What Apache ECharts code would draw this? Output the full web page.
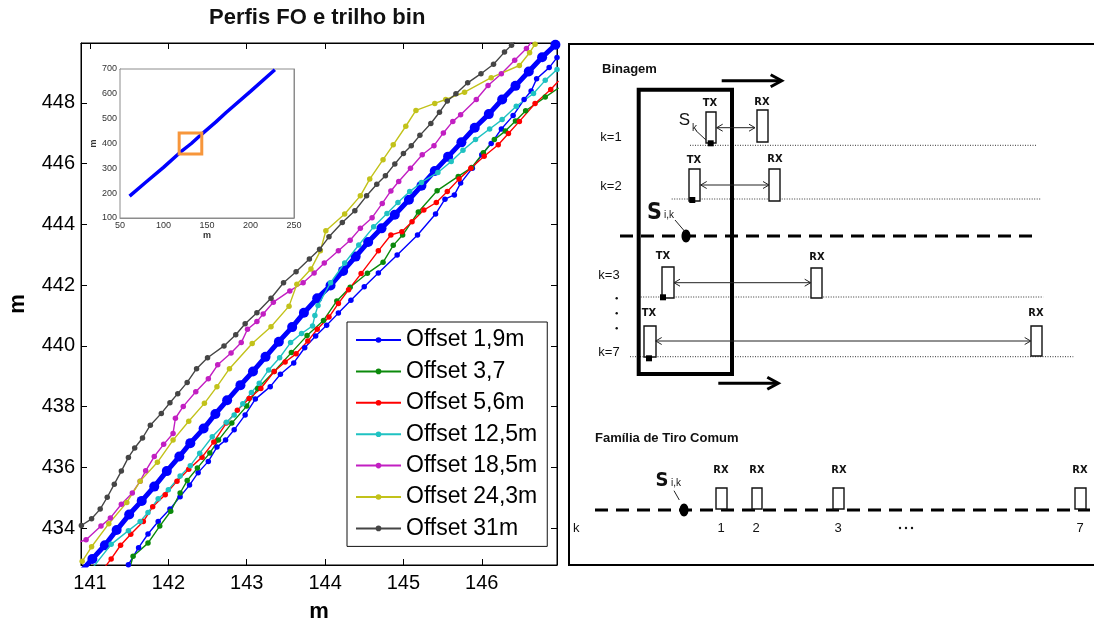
<!DOCTYPE html>
<html>
<head>
<meta charset="utf-8">
<script src="https://cdn.jsdelivr.net/npm/echarts@6/dist/echarts.min.js"></script>
<style>
  html, body { margin: 0; padding: 0; background: #fff; }
  #chart { width: 1094px; height: 623px; }
</style>
</head>
<body>
<div id="chart"></div>
<script>
// left panel: offset profiles around the bin track, values in metres
var FONT = "'Liberation Sans', Arial, sans-serif";
var NARROW = "'Liberation Sans Narrow', 'DejaVu Sans Condensed', 'Liberation Sans', sans-serif";

var offsetNames = ['Offset 1,9m', 'Offset 3,7', 'Offset 5,6m', 'Offset 12,5m', 'Offset 18,5m', 'Offset 24,3m', 'Offset 31m'];
var offsetColors = ['#0000ff', '#0b8a0b', '#ff0000', '#1fc2c2', '#c21fc2', '#c2c21a', '#454545'];
var xTicks = [141, 142, 143, 144, 145, 146];
var yTicks = [434, 436, 438, 440, 442, 444, 446, 448];

var binTrack = [
  [140.87, 432.54], [141.03, 432.99], [141.19, 433.44], [141.34, 433.94], [141.50, 434.45], [141.66, 434.90],
  [141.82, 435.37], [141.98, 435.88], [142.14, 436.36], [142.28, 436.80], [142.45, 437.28], [142.60, 437.76],
  [142.75, 438.21], [142.92, 438.71], [143.08, 439.16], [143.24, 439.64], [143.41, 440.14], [143.58, 440.62],
  [143.73, 441.09], [143.90, 441.57], [144.07, 441.99], [144.23, 442.47], [144.39, 442.94], [144.55, 443.42],
  [144.72, 443.87], [144.89, 444.32], [145.07, 444.81], [145.23, 445.27], [145.40, 445.76], [145.57, 446.23],
  [145.74, 446.70], [145.91, 447.18], [146.09, 447.63], [146.26, 448.11], [146.43, 448.56], [146.60, 449.03],
  [146.77, 449.50], [146.94, 449.91]
];
var offset19 = [
  [141.43, 432.62], [141.49, 432.80], [141.62, 433.36], [141.74, 433.81], [141.87, 434.22], [142.02, 434.63],
  [142.15, 435.04], [142.27, 435.42], [142.38, 435.83], [142.51, 436.20], [142.62, 436.67], [142.73, 436.90],
  [142.84, 437.24], [142.98, 437.73], [143.11, 438.25], [143.30, 438.66], [143.43, 439.07], [143.60, 439.44],
  [143.74, 439.94], [143.88, 440.33], [144.02, 440.68], [144.17, 441.08], [144.33, 441.50], [144.50, 441.95],
  [144.68, 442.40], [144.92, 442.99], [145.18, 443.65], [145.41, 444.34], [145.53, 444.83], [145.65, 444.97],
  [145.73, 445.36], [145.88, 445.85], [146.00, 446.29], [146.12, 446.66], [146.25, 447.14], [146.40, 447.58],
  [146.54, 448.11], [146.63, 448.39], [146.70, 448.79], [146.86, 449.16], [146.96, 449.49]
];
var offset37 = [
  [141.50, 432.62], [141.55, 433.08], [141.74, 433.51], [141.89, 434.07], [142.03, 434.56], [142.15, 435.16],
  [142.24, 435.57], [142.37, 435.98], [142.53, 436.48], [142.64, 436.90], [142.81, 437.46], [143.00, 438.02],
  [143.14, 438.60], [143.35, 439.16], [143.57, 439.78], [143.77, 440.34], [143.98, 440.84], [144.15, 441.48],
  [144.32, 441.93], [144.54, 442.39], [144.74, 442.75], [144.87, 443.31], [144.99, 443.65], [145.19, 444.41],
  [145.43, 445.11], [145.70, 445.58], [145.87, 445.87], [146.02, 446.36], [146.16, 446.79], [146.30, 447.07],
  [146.43, 447.40], [146.56, 447.74], [146.81, 448.19], [146.98, 448.49]
];
var offset56 = [
  [141.19, 432.72], [141.27, 432.99], [141.39, 433.44], [141.52, 433.80], [141.68, 434.22], [141.80, 434.71],
  [141.96, 435.10], [142.11, 435.55], [142.26, 435.94], [142.43, 436.34], [142.58, 436.84], [142.74, 437.46],
  [142.88, 437.88], [143.03, 438.27], [143.18, 438.60], [143.35, 439.16], [143.49, 439.47], [143.63, 439.74],
  [143.78, 440.16], [143.90, 440.55], [144.05, 440.95], [144.17, 441.40], [144.30, 441.85], [144.46, 442.38],
  [144.68, 443.13], [144.84, 443.65], [144.98, 443.76], [145.11, 444.09], [145.26, 444.47], [145.42, 444.72],
  [145.56, 445.08], [145.71, 445.49], [145.86, 445.85], [146.03, 446.24], [146.21, 446.62], [146.34, 446.99],
  [146.48, 447.39], [146.68, 447.98], [146.88, 448.44], [146.98, 448.72]
];
var offset125 = [
  [141.05, 432.75], [141.27, 433.47], [141.49, 433.92], [141.64, 434.22], [141.74, 434.52], [141.87, 434.97],
  [142.00, 435.27], [142.15, 435.72], [142.28, 436.06], [142.40, 436.47], [142.56, 437.01], [142.74, 437.49],
  [142.84, 437.73], [142.95, 438.10], [143.06, 438.47], [143.16, 438.77], [143.28, 439.21], [143.42, 439.61],
  [143.56, 440.11], [143.70, 440.41], [143.84, 440.66], [143.87, 441.00], [143.91, 441.33], [144.07, 442.08],
  [144.25, 442.73], [144.43, 443.32], [144.62, 443.92], [144.79, 444.36], [144.93, 444.72], [145.08, 445.08],
  [145.23, 445.38], [145.44, 445.71], [145.61, 446.07], [145.76, 446.44], [145.92, 446.79], [146.10, 447.14],
  [146.26, 447.45], [146.44, 447.89], [146.66, 448.31], [146.81, 448.74], [146.96, 449.10]
];
var offset185 = [
  [140.87, 433.55], [140.95, 433.62], [141.14, 434.07], [141.26, 434.34], [141.40, 434.79], [141.54, 435.16],
  [141.64, 435.55], [141.71, 435.89], [141.82, 436.36], [141.94, 436.76], [142.06, 437.12], [142.09, 437.62],
  [142.19, 438.01], [142.35, 438.49], [142.51, 438.92], [142.63, 439.38], [142.80, 439.77], [142.93, 440.11],
  [143.01, 440.55], [143.13, 440.80], [143.21, 441.05], [143.34, 441.44], [143.55, 441.81], [143.72, 442.08],
  [143.86, 442.40], [143.99, 442.73], [144.17, 443.13], [144.32, 443.48], [144.45, 443.87], [144.60, 444.22],
  [144.73, 444.69], [144.84, 445.10], [144.94, 445.41], [145.09, 445.85], [145.24, 446.29], [145.39, 446.59],
  [145.51, 447.01], [145.63, 447.39], [145.73, 447.61], [145.93, 448.11], [146.08, 448.57], [146.25, 448.96],
  [146.42, 449.40], [146.57, 449.79], [146.65, 450.05]
];
var offset243 = [
  [140.90, 432.91], [141.02, 433.39], [141.24, 434.15], [141.47, 434.85], [141.64, 435.55], [141.86, 436.17],
  [142.06, 436.90], [142.26, 437.52], [142.46, 438.11], [142.62, 438.66], [142.78, 439.25], [143.07, 440.08],
  [143.31, 440.63], [143.54, 441.31], [143.64, 442.03], [143.82, 442.53], [143.94, 443.13], [144.01, 443.79],
  [144.25, 444.34], [144.45, 444.94], [144.57, 445.49], [144.74, 446.13], [144.87, 446.62], [145.03, 447.23],
  [145.16, 447.75], [145.40, 447.98], [145.54, 448.11], [145.78, 448.35], [146.12, 448.83], [146.48, 449.23],
  [146.61, 449.65], [146.68, 449.93]
];
var offset31 = [
  [140.89, 434.09], [141.02, 434.31], [141.13, 434.63], [141.22, 435.02], [141.31, 435.45], [141.40, 435.88],
  [141.49, 436.33], [141.57, 436.64], [141.67, 436.97], [141.77, 437.39], [141.91, 437.78], [142.02, 438.13],
  [142.12, 438.43], [142.24, 438.80], [142.36, 439.25], [142.50, 439.61], [142.71, 440.00], [142.86, 440.37],
  [142.98, 440.73], [143.13, 441.09], [143.31, 441.57], [143.47, 442.08], [143.63, 442.44], [143.80, 442.86],
  [143.93, 443.18], [144.05, 443.59], [144.22, 444.06], [144.38, 444.45], [144.53, 444.94], [144.66, 445.32],
  [144.77, 445.60], [144.89, 445.99], [145.00, 446.33], [145.10, 446.59], [145.21, 446.93], [145.35, 447.32],
  [145.46, 447.69], [145.56, 448.06], [145.67, 448.30], [145.82, 448.66], [145.99, 448.96], [146.15, 449.27],
  [146.29, 449.67], [146.38, 449.90], [146.45, 450.10]
];

// inset: whole track, and the zoomed window
var insetTrack = [[61, 188], [80, 245], [100, 304], [119, 364], [132, 400], [144, 438], [160, 486], [172, 525], [200, 610], [228, 697]];
var insetWindow = [[118, 358, 144, 442]];

// right panel: schematic, in panel units (x right, y down)
var binFrame = [[69.7, 45.7, 163, 330]];
var antennaBoxes = [
  [137, 68, 147, 99], [188, 66, 199, 98],
  [120, 125, 131, 157], [200, 125, 211, 157],
  [93, 223, 105, 254], [242, 224, 253, 254],
  [75, 282, 87, 313], [462, 282, 473, 312],
  [147, 444, 158, 465], [183, 444, 193, 465], [264, 444, 275, 465], [506, 444, 517, 465]
];
var sourceMarks = [[141.7, 99.3], [123.3, 156], [94, 253.3], [80, 314.3]];
var offsetArrows = [[147.7, 83.7, 186], [131.7, 141, 200], [105, 238.7, 241.7], [86.7, 297, 461.7]];
var moveArrows = [[152.7, 36.7, 212.7], [149.3, 339.3, 209.3]];
var traceLines = [[121, 101.3, 467.7], [102.7, 155, 472.7], [71.7, 253, 474.3], [61, 312.7, 504.3]];
var binLines = [[51, 192, 467.7], [26, 466, 521]];
var binPoints = [[117, 192], [115, 466]];
var pointers = [[127, 86.7, 137, 96], [106, 176, 116, 187.7], [105, 446.7, 110.3, 456]];
var ellipsisDots = [[47.7, 254.3], [47.7, 269.3], [47.7, 284.3], [331, 484], [337, 484], [343, 484]];
var diagramTexts = [
  [33, 25, 'Binagem', 'head'],
  [42, 93, 'k=1', 'lab'], [42, 142, 'k=2', 'lab'], [40, 231, 'k=3', 'lab'], [40, 308, 'k=7', 'lab'],
  [141, 59, 'TX', 'trx'], [193, 58, 'RX', 'trx'], [125, 116, 'TX', 'trx'], [206, 115, 'RX', 'trx'],
  [94, 212, 'TX', 'trx'], [248, 213, 'RX', 'trx'], [80, 269, 'TX', 'trx'], [467, 269, 'RX', 'trx'],
  [115.5, 76.5, 'S', 's'], [125.5, 84.5, 'k', 'sub'],
  [85.5, 169.5, 'S', 'sb'], [100, 171, 'i,k', 'sub'],
  [26, 394, 'Família de Tiro Comum', 'head'],
  [93, 436.5, 'S', 'sb2'], [107, 439, 'i,k', 'sub'],
  [152, 426, 'RX', 'trx'], [188, 426, 'RX', 'trx'], [270, 426, 'RX', 'trx'], [511, 426, 'RX', 'trx'],
  [152, 484, '1', 'num'], [187, 484, '2', 'num'], [269, 484, '3', 'num'], [511, 484, '7', 'num'],
  [4, 484, 'k', 'numL']
];

var textLook = {
  head: { fontSize: 13, fontWeight: 'bold', align: 'left', fontFamily: FONT },
  lab: { fontSize: 13, fontWeight: 'normal', align: 'center', fontFamily: FONT },
  trx: { fontSize: 11, fontWeight: 'bold', align: 'center', fontFamily: NARROW },
  s: { fontSize: 17, fontWeight: 'normal', align: 'center', fontFamily: FONT },
  sb: { fontSize: 23, fontWeight: 'bold', align: 'center', fontFamily: NARROW },
  sb2: { fontSize: 20, fontWeight: 'bold', align: 'center', fontFamily: NARROW },
  sub: { fontSize: 10, fontWeight: 'normal', align: 'center', fontFamily: FONT },
  num: { fontSize: 13, fontWeight: 'normal', align: 'center', fontFamily: FONT },
  numL: { fontSize: 13, fontWeight: 'normal', align: 'left', fontFamily: FONT }
};

var chart = echarts.init(document.getElementById('chart'));

function headPoints(tip, dir, len, half) {
  return [[tip[0] - dir * len, tip[1] - half], tip, [tip[0] - dir * len, tip[1] + half]];
}

// custom series drawn through a given pair of axes
function drawn(items, xi, draw) {
  return {
    type: 'custom',
    xAxisIndex: xi,
    yAxisIndex: xi,
    silent: true,
    z: 6,
    data: items.map(function (d) { return [d[0], d[1]]; }),
    renderItem: function (params, api) {
      return draw(items[params.dataIndex], function (x, y) { return api.coord([x, y]); });
    }
  };
}
function diagram(items, draw) { return drawn(items, 4, draw); }

var series = [];

series.push({
  type: 'line',
  name: 'trilho bin',
  xAxisIndex: 0,
  yAxisIndex: 0,
  data: binTrack,
  symbol: 'circle',
  symbolSize: 10,
  lineStyle: { color: '#0000ff', width: 5 },
  itemStyle: { color: '#0000ff' },
  z: 2
});

[offset19, offset37, offset56, offset125, offset185, offset243, offset31].forEach(function (d, i) {
  series.push({
    type: 'line',
    name: offsetNames[i],
    xAxisIndex: 0,
    yAxisIndex: 0,
    data: d,
    symbol: 'circle',
    symbolSize: 5.5,
    lineStyle: { color: offsetColors[i], width: 1.4 },
    itemStyle: { color: offsetColors[i] },
    z: 3
  });
});

series.push({
  type: 'line',
  name: 'inset',
  xAxisIndex: 2,
  yAxisIndex: 2,
  data: insetTrack,
  showSymbol: false,
  lineStyle: { color: '#0000ff', width: 3.5 },
  z: 5
});

series.push(drawn(insetWindow, 2, function (d, c) {
  var a = c(d[0], d[3]), b = c(d[2], d[1]);
  return { type: 'rect', shape: { x: a[0], y: a[1], width: b[0] - a[0], height: b[1] - a[1] }, style: { fill: 'none', stroke: '#f7963b', lineWidth: 3 } };
}));

// schematic pieces
series.push(diagram(traceLines, function (d, c) {
  var a = c(d[0], d[1]), b = c(d[2], d[1]);
  return { type: 'line', shape: { x1: a[0], y1: a[1], x2: b[0], y2: b[1] }, style: { stroke: '#333', lineWidth: 1, lineDash: [1, 1.5] } };
}));
series.push(diagram(binLines, function (d, c) {
  var a = c(d[0], d[1]), b = c(d[2], d[1]);
  return { type: 'line', shape: { x1: a[0], y1: a[1], x2: b[0], y2: b[1] }, style: { stroke: '#000', lineWidth: 3, lineDash: [13, 8] } };
}));
series.push(diagram(binFrame, function (d, c) {
  var a = c(d[0], d[1]), b = c(d[2], d[3]);
  return { type: 'rect', shape: { x: a[0], y: a[1], width: b[0] - a[0], height: b[1] - a[1] }, style: { fill: 'none', stroke: '#000', lineWidth: 4 } };
}));
series.push(diagram(antennaBoxes, function (d, c) {
  var a = c(d[0], d[1]), b = c(d[2], d[3]);
  return { type: 'rect', shape: { x: a[0], y: a[1], width: b[0] - a[0], height: b[1] - a[1] }, style: { fill: '#fff', stroke: '#111', lineWidth: 1.4 } };
}));
series.push(diagram(offsetArrows, function (d, c) {
  var a = c(d[0], d[1]), b = c(d[2], d[1]);
  var st = { stroke: '#222', lineWidth: 1, fill: 'none' };
  return {
    type: 'group',
    children: [
      { type: 'line', shape: { x1: a[0], y1: a[1], x2: b[0], y2: b[1] }, style: st },
      { type: 'polyline', shape: { points: headPoints(a, -1, 6, 3.5) }, style: st },
      { type: 'polyline', shape: { points: headPoints(b, 1, 6, 3.5) }, style: st }
    ]
  };
}));
series.push(diagram(moveArrows, function (d, c) {
  var a = c(d[0], d[1]), b = c(d[2], d[1]);
  var st = { stroke: '#000', lineWidth: 3, fill: 'none' };
  return {
    type: 'group',
    children: [
      { type: 'line', shape: { x1: a[0], y1: a[1], x2: b[0] - 1, y2: b[1] }, style: st },
      { type: 'polyline', shape: { points: headPoints(b, 1, 11, 6) }, style: st }
    ]
  };
}));
series.push(diagram(sourceMarks, function (d, c) {
  var p = c(d[0], d[1]);
  return { type: 'rect', shape: { x: p[0] - 3, y: p[1] - 3, width: 6, height: 6 }, style: { fill: '#000' } };
}));
series.push(diagram(binPoints, function (d, c) {
  var p = c(d[0], d[1]);
  return { type: 'ellipse', shape: { cx: p[0], cy: p[1], rx: 4.5, ry: 6.5 }, style: { fill: '#000' } };
}));
series.push(diagram(pointers, function (d, c) {
  var a = c(d[0], d[1]), b = c(d[2], d[3]);
  return { type: 'line', shape: { x1: a[0], y1: a[1], x2: b[0], y2: b[1] }, style: { stroke: '#222', lineWidth: 1 } };
}));
series.push(diagram(ellipsisDots, function (d, c) {
  var p = c(d[0], d[1]);
  return { type: 'circle', shape: { cx: p[0], cy: p[1], r: 1.2 }, style: { fill: '#111' } };
}));
series.push(diagram(diagramTexts, function (d, c) {
  var p = c(d[0], d[1]);
  var look = textLook[d[3]];
  return {
    type: 'text',
    x: p[0],
    y: p[1],
    style: {
      text: d[2],
      fontSize: look.fontSize,
      fontWeight: look.fontWeight,
      fontFamily: look.fontFamily,
      align: look.align,
      verticalAlign: 'middle',
      fill: '#111'
    }
  };
}));

var mainAxisLine = { lineStyle: { color: '#000', width: 1 } };

var option = {
  animation: false,
  backgroundColor: '#fff',
  textStyle: { fontFamily: FONT },
  title: {
    text: 'Perfis FO e trilho bin',
    left: 204,
    top: 2,
    textStyle: { fontFamily: FONT, fontSize: 22, fontWeight: 'bold', color: '#111' }
  },
  legend: {
    data: offsetNames,
    orient: 'vertical',
    left: 347,
    top: 322,
    padding: [6, 10, 6, 8],
    itemGap: 7.4,
    itemWidth: 45,
    itemHeight: 7,
    backgroundColor: '#fff',
    borderColor: '#111',
    borderWidth: 1,
    selectedMode: false,
    textStyle: { fontFamily: FONT, fontSize: 23, color: '#000', lineHeight: 24 }
  },
  grid: [
    { left: 81, top: 43, width: 476, height: 522, show: true, borderColor: '#000', borderWidth: 1, backgroundColor: '#fff', outerBoundsMode: 'none' },
    { left: 120, top: 69, width: 174, height: 149, show: true, borderColor: '#8c8c8c', borderWidth: 1, backgroundColor: '#fff', outerBoundsMode: 'none', z: 4 },
    { left: 569, top: 44, width: 530, height: 521, show: true, borderColor: '#000', borderWidth: 2, backgroundColor: 'rgba(0,0,0,0)', outerBoundsMode: 'none' }
  ],
  xAxis: [
    {
      type: 'value', gridIndex: 0, position: 'bottom', min: 140.885, max: 146.96,
      axisLine: mainAxisLine,
      axisTick: { inside: true, length: 6, customValues: xTicks, lineStyle: { color: '#000' } },
      axisLabel: { customValues: xTicks, fontSize: 20, color: '#000', margin: 8, fontFamily: FONT },
      splitLine: { show: false },
      name: 'm', nameLocation: 'middle', nameGap: 36,
      nameTextStyle: { fontSize: 22, fontWeight: 'bold', color: '#000', fontFamily: FONT }
    },
    {
      type: 'value', gridIndex: 0, position: 'top', min: 140.885, max: 146.96,
      axisLine: mainAxisLine,
      axisTick: { inside: true, length: 6, customValues: xTicks, lineStyle: { color: '#000' } },
      axisLabel: { show: false },
      splitLine: { show: false }
    },
    {
      type: 'value', gridIndex: 1, position: 'bottom', min: 50, max: 250, interval: 50,
      axisLine: { lineStyle: { color: '#8c8c8c' } },
      axisTick: { inside: true, length: 3, lineStyle: { color: '#8c8c8c' } },
      axisLabel: { fontSize: 9, color: '#333', margin: 3, fontFamily: FONT },
      splitLine: { show: false },
      name: 'm', nameLocation: 'middle', nameGap: 13,
      nameTextStyle: { fontSize: 9, fontWeight: 'bold', color: '#333', fontFamily: FONT }
    },
    {
      type: 'value', gridIndex: 1, position: 'top', min: 50, max: 250, interval: 50,
      axisLine: { lineStyle: { color: '#8c8c8c' } },
      axisTick: { inside: true, length: 3, lineStyle: { color: '#8c8c8c' } },
      axisLabel: { show: false },
      splitLine: { show: false }
    },
    { type: 'value', gridIndex: 2, min: 0, max: 530, show: false }
  ],
  yAxis: [
    {
      type: 'value', gridIndex: 0, position: 'left', min: 432.79, max: 449.97,
      axisLine: mainAxisLine,
      axisTick: { inside: true, length: 6, customValues: yTicks, lineStyle: { color: '#000' } },
      axisLabel: { customValues: yTicks, fontSize: 20, color: '#000', margin: 6, fontFamily: FONT },
      splitLine: { show: false },
      name: 'm', nameLocation: 'middle', nameGap: 52,
      nameTextStyle: { fontSize: 22, fontWeight: 'bold', color: '#000', fontFamily: FONT }
    },
    {
      type: 'value', gridIndex: 0, position: 'right', min: 432.79, max: 449.97,
      axisLine: mainAxisLine,
      axisTick: { inside: true, length: 6, customValues: yTicks, lineStyle: { color: '#000' } },
      axisLabel: { show: false },
      splitLine: { show: false }
    },
    {
      type: 'value', gridIndex: 1, position: 'left', min: 100, max: 700, interval: 100,
      axisLine: { lineStyle: { color: '#8c8c8c' } },
      axisTick: { inside: true, length: 3, lineStyle: { color: '#8c8c8c' } },
      axisLabel: { fontSize: 9, color: '#333', margin: 3, fontFamily: FONT },
      splitLine: { show: false },
      name: 'm', nameLocation: 'middle', nameGap: 14,
      nameTextStyle: { fontSize: 9, fontWeight: 'bold', color: '#333', fontFamily: FONT }
    },
    {
      type: 'value', gridIndex: 1, position: 'right', min: 100, max: 700, interval: 100,
      axisLine: { lineStyle: { color: '#8c8c8c' } },
      axisTick: { inside: true, length: 3, lineStyle: { color: '#8c8c8c' } },
      axisLabel: { show: false },
      splitLine: { show: false }
    },
    { type: 'value', gridIndex: 2, min: 0, max: 521, inverse: true, show: false }
  ],
  series: series
};

chart.setOption(option);
</script>
</body>
</html>
